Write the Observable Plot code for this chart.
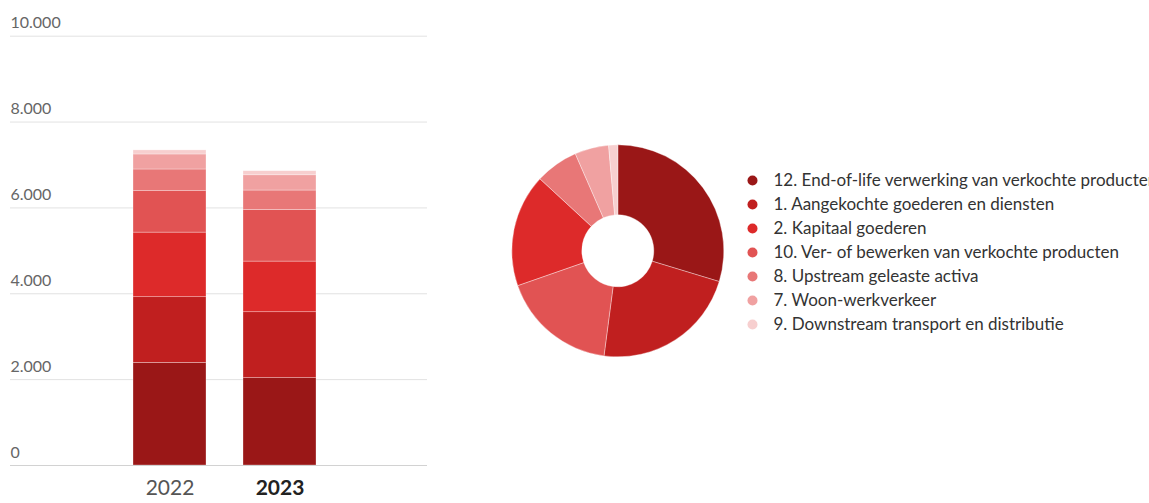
<!DOCTYPE html>
<html><head><meta charset="utf-8">
<script src="https://cdn.jsdelivr.net/npm/d3@7"></script>
<script src="https://cdn.jsdelivr.net/npm/@observablehq/plot@0.6"></script>
<style>
html,body{margin:0;padding:0;background:#fff;overflow:hidden;width:1149px;height:503px}
#wrap{display:flex;width:1149px;height:503px;overflow:hidden}
#bars{width:440px;flex:none}
#donut{width:709px;flex:none}
</style></head><body><div id="wrap"><div id="bars"></div><div id="donut"></div></div>
<script>
const years = ["2022", "2023"];
const categories = [
  "12. End-of-life verwerking van verkochte producten",
  "1. Aangekochte goederen en diensten",
  "2. Kapitaal goederen",
  "10. Ver- of bewerken van verkochte producten",
  "8. Upstream geleaste activa",
  "7. Woon-werkverkeer",
  "9. Downstream transport en distributie"
];
const values2022 = [2390, 1530, 1505, 965, 505, 350, 95];
const values2023 = [2035, 1535, 1180, 1205, 450, 355, 95];
const colors = ["#9a1717", "#c01f1f", "#dd2a2a", "#e15353", "#e87777", "#f0a1a1", "#f7cfcf"];
const yTicks = [0, 2000, 4000, 6000, 8000, 10000];
const boldYear = years[years.length - 1];

const nl = d3.formatLocale({decimal: ",", thousands: ".", grouping: [3], currency: ["€", ""]});
const fmt = nl.format(",");
const seriesByYear = [values2022, values2023];
const table = years.flatMap((yr, i) => categories.map((c, j) => ({year: yr, category: c, value: seriesByYear[i][j]})));

const font = "Lato, 'Open Sans', sans-serif";

const left = Plot.plot({
  width: 440, height: 503,
  marginLeft: 10, marginRight: 13, marginTop: 0, marginBottom: 38,
  style: {fontFamily: font, background: "transparent", overflow: "visible"},
  x: {domain: years, range: [95.5, 353], padding: 0.333, axis: null},
  y: {domain: [0, 10000], range: [465, 35.7], axis: null},
  color: {domain: categories, range: colors},
  marks: [
    Plot.ruleY(yTicks.filter(d => d > 0), {y: d => d, stroke: "#e2e2e2", strokeWidth: 1}),
    Plot.barY(table, {x: "year", y: "value", fill: "category", stroke: "#fff", strokeWidth: 0.6, strokeOpacity: 0.5}),
    Plot.ruleY([0], {stroke: "#d2d2d2", strokeWidth: 1.2}),
    Plot.text(yTicks, {y: d => d, text: d => fmt(d), frameAnchor: "left", textAnchor: "start", dy: -13, fontSize: 16, fill: "#666"}),
    Plot.text(years.filter(d => d !== boldYear), {x: d => d, text: d => d, frameAnchor: "bottom", dy: 29, fontSize: 21, fill: "#555"}),
    Plot.text(years.filter(d => d === boldYear), {x: d => d, text: d => d, frameAnchor: "bottom", dy: 29, fontSize: 21, fontWeight: "bold", fill: "#222"})
  ]
});
document.getElementById("bars").append(left);

const donutCx = 177.8, donutCy = 250.8, innerR = 36, outerR = 106;
function donutMark(index, scales) {
  const data = categories.map((c, i) => ({category: c, value: values2023[i]}));
  const arcs = d3.pie().value(d => d.value)(data);
  const arc = d3.arc().innerRadius(innerR).outerRadius(outerR);
  const colorOf = scales && scales.color ? scales.color : (c => colors[categories.indexOf(c)]);
  const g = d3.create("svg:g").attr("transform", `translate(${donutCx},${donutCy})`);
  g.selectAll("path").data(arcs).join("path")
    .attr("d", arc)
    .attr("fill", d => colorOf(d.data.category))
    .attr("stroke", "#fff").attr("stroke-width", 0.6).attr("stroke-opacity", 0.6);
  return g.node();
}

const right = Plot.plot({
  width: 709, height: 503,
  marginLeft: 312, marginRight: 0, marginTop: 0, marginBottom: 0,
  style: {fontFamily: font, background: "transparent", overflow: "visible"},
  y: {type: "point", domain: categories, range: [179, 325.5], padding: 0, axis: null},
  color: {domain: categories, range: colors},
  marks: [
    donutMark,
    Plot.dot(categories, {y: d => d, fill: d => d, r: 5, frameAnchor: "left"}),
    Plot.text(categories, {y: d => d, text: d => d, frameAnchor: "left", textAnchor: "start", dx: 21, fontSize: 17, fill: "#333"})
  ]
});
document.getElementById("donut").append(right);
</script></body></html>
